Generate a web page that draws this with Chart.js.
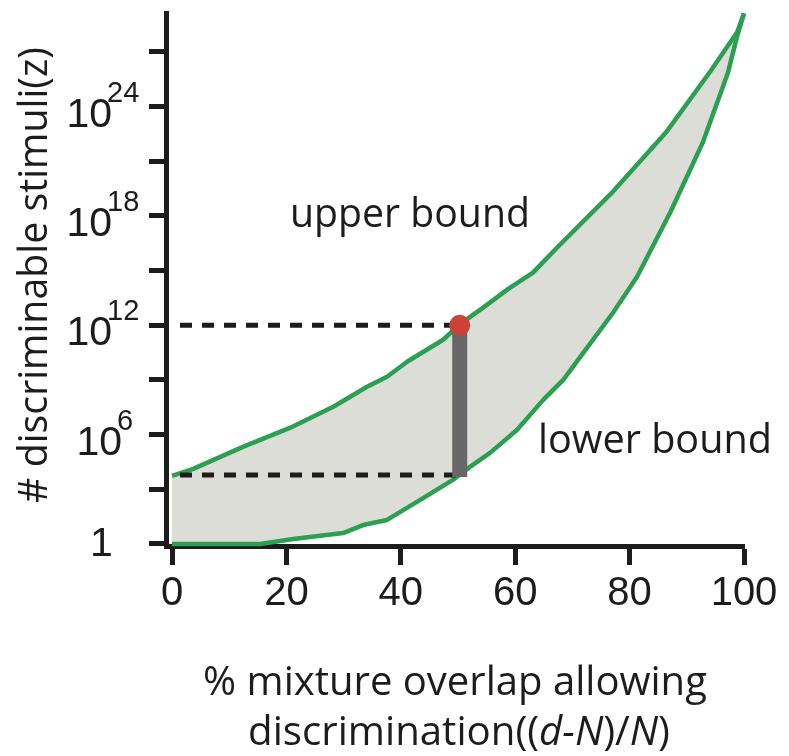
<!DOCTYPE html>
<html>
<head>
<meta charset="utf-8">
<script src="https://cdn.jsdelivr.net/npm/chart.js@4.4.1/dist/chart.umd.min.js"></script>
<style>
html,body{margin:0;padding:0;background:#ffffff;}
#wrap{width:789px;height:756px;position:relative;}
canvas{display:block;}
</style>
</head>
<body>
<div id="wrap"><canvas id="c" width="789" height="756"></canvas></div>
<script>
// ---- data (x in %, y as log10 exponent) ----
const upperX   = [0, 3.7, 12.4, 20.6, 28.2, 34.1, 37.6, 41.1, 47.4, 50.3, 54.4, 58.6, 63.1, 67.3, 77.1, 86.5, 94.1, 98.8, 100];
const upperExp = [3.74, 4.12, 5.33, 6.37, 7.53, 8.63, 9.18, 10.0, 11.21, 12.05, 12.97, 13.96, 14.89, 16.26, 19.34, 22.64, 25.93, 28.08, 29.12];
const lowerX   = [0, 15.4, 21.2, 29.9, 33.4, 37.6, 43.4, 49.1, 52.1, 55.6, 60.3, 64.9, 68.4, 71.9, 77.1, 81.3, 87.1, 92.8, 97.2, 98.8, 100];
const lowerExp = [0, 0, 0.27, 0.6, 1.04, 1.32, 2.42, 3.52, 4.23, 5.0, 6.26, 7.91, 9.01, 10.49, 12.69, 14.67, 18.19, 22.03, 25.88, 27.86, 29.12];
const markX = 50.3;          // highlighted overlap
const markUpperExp = 12;     // 10^12 upper bound at the mark
const markLowerExp = 3.79;   // lower bound level at the mark
const barBottomExp = 3.68;
const dashStartX = 1.4;
const xTicks = [0, 20, 40, 60, 80, 100];
const yTickExp = [0, 3, 6, 9, 12, 15, 18, 21, 24, 27];
const yLabelExp = [0, 6, 12, 18, 24];
const yTitle = '# discriminable stimuli(z)';
const xTitle1 = '% mixture overlap allowing';
const xTitle2 = [['discrimination((', false], ['d-N', true], [')/', false], ['N', true], [')', false]];
const annUpper = 'upper bound';
const annLower = 'lower bound';

// ---- styles ----
const GREEN = '#2ba052';
const FILL = '#dcddd7';
const INK = '#1c1c1c';
const SANS = "'Open Sans', 'Noto Sans', sans-serif";
const NUM = "'Liberation Sans', Arial, sans-serif";

const pts = (xs, es) => xs.map((x, i) => ({x: x, y: Math.pow(10, es[i])}));

function fitSize(ctx, segs, targetW) {
  let w = 0;
  segs.forEach(([t, it]) => { ctx.font = (it ? 'italic ' : '') + '100px ' + SANS; w += ctx.measureText(t).width; });
  return 100 * targetW / w;
}

const textPlugin = {
  id: 'texts',
  afterDraw(chart) {
    const ctx = chart.ctx;
    const ys = chart.scales.y;
    ctx.save();
    ctx.fillStyle = INK;
    ctx.textBaseline = 'alphabetic';
    // y tick labels with superscripts
    yLabelExp.forEach(e => {
      const py = ys.getPixelForValue(Math.pow(10, e));
      if (e === 0) {
        ctx.font = '41px ' + NUM;
        ctx.textAlign = 'left';
        ctx.fillText('1', 90, py + 12);
        return;
      }
      const sup = String(e);
      const right = sup.length === 1 ? 122 : 112;
      ctx.font = '41px ' + NUM;
      ctx.textAlign = 'right';
      ctx.fillText('10', right, py + 20);
      ctx.font = '29px ' + NUM;
      ctx.textAlign = 'left';
      ctx.fillText(sup, right - 5, py - 5);
    });
    // y title
    let s = fitSize(ctx, [[yTitle, false]], 456);
    ctx.save();
    ctx.translate(47, 275);
    ctx.rotate(-Math.PI / 2);
    ctx.font = s + 'px ' + SANS;
    ctx.textAlign = 'center';
    ctx.fillText(yTitle, 0, 0);
    ctx.restore();
    // x title line 1
    s = fitSize(ctx, [[xTitle1, false]], 504);
    ctx.font = s + 'px ' + SANS;
    ctx.textAlign = 'center';
    ctx.fillText(xTitle1, 455, 695);
    // x title line 2 (mixed italic)
    s = fitSize(ctx, xTitle2, 422);
    let total = 0;
    xTitle2.forEach(([t, it]) => { ctx.font = (it ? 'italic ' : '') + s + 'px ' + SANS; total += ctx.measureText(t).width; });
    let x = 459 - total / 2;
    ctx.textAlign = 'left';
    xTitle2.forEach(([t, it]) => {
      ctx.font = (it ? 'italic ' : '') + s + 'px ' + SANS;
      ctx.fillText(t, x, 745);
      x += ctx.measureText(t).width;
    });
    // annotations
    s = fitSize(ctx, [[annUpper, false]], 240);
    ctx.font = s + 'px ' + SANS;
    ctx.fillText(annUpper, 290, 227);
    s = fitSize(ctx, [[annLower, false]], 234);
    ctx.font = s + 'px ' + SANS;
    ctx.fillText(annLower, 538, 453);
    ctx.restore();
  }
};

new Chart(document.getElementById('c'), {
  type: 'line',
  data: {
    datasets: [
      { label: 'mark', type: 'scatter', data: [{x: markX, y: Math.pow(10, markUpperExp)}],
        pointRadius: 10.5, pointBackgroundColor: '#cc4236', pointBorderWidth: 0, showLine: false, order: 0, clip: false },
      { label: 'range', data: [{x: markX, y: Math.pow(10, barBottomExp)}, {x: markX, y: Math.pow(10, markUpperExp)}],
        borderColor: '#676767', borderWidth: 15, borderCapStyle: 'butt', pointRadius: 0, fill: false, order: 1, clip: false },
      { label: 'dash upper', data: [{x: dashStartX, y: Math.pow(10, markUpperExp)}, {x: markX, y: Math.pow(10, markUpperExp)}],
        borderColor: INK, borderWidth: 5, borderDash: [12, 10], borderCapStyle: 'butt', pointRadius: 0, fill: false, order: 2, clip: false },
      { label: 'dash lower', data: [{x: dashStartX, y: Math.pow(10, markLowerExp)}, {x: markX, y: Math.pow(10, markLowerExp)}],
        borderColor: INK, borderWidth: 5, borderDash: [12, 10], borderCapStyle: 'butt', pointRadius: 0, fill: false, order: 2, clip: false },
      { label: 'upper bound', data: pts(upperX, upperExp), borderColor: GREEN, borderWidth: 4.5,
        backgroundColor: FILL, fill: 5, pointRadius: 0, tension: 0, order: 3, clip: false, borderJoinStyle: 'round' },
      { label: 'lower bound', data: pts(lowerX, lowerExp), borderColor: GREEN, borderWidth: 4.5,
        fill: false, pointRadius: 0, tension: 0, order: 3, clip: false, borderJoinStyle: 'round' }
    ]
  },
  options: {
    responsive: false,
    animation: false,
    devicePixelRatio: 1,
    layout: { padding: { left: 0, right: 45, top: 13, bottom: 0 } },
    plugins: {
      legend: { display: false },
      tooltip: { enabled: false },
      filler: { drawTime: 'beforeDatasetsDraw' }
    },
    scales: {
      x: {
        type: 'linear',
        min: -1.05,
        max: 100,
        afterBuildTicks: s => { s.ticks = xTicks.map(v => ({value: v})); },
        afterFit: s => { s.height = 210; },
        border: { display: true, color: INK, width: 5 },
        grid: { display: true, drawOnChartArea: false, drawTicks: true, tickLength: 19, tickWidth: 5, tickColor: INK },
        ticks: { color: INK, font: { family: NUM, size: 40 }, padding: 5, maxRotation: 0, autoSkip: false }
      },
      y: {
        type: 'logarithmic',
        min: Math.pow(10, -0.11),
        max: Math.pow(10, 29.14),
        afterBuildTicks: s => { s.ticks = yTickExp.map(e => ({value: Math.pow(10, e)})); },
        afterFit: s => { s.width = 166; },
        border: { display: true, color: INK, width: 5 },
        grid: { display: true, drawOnChartArea: false, drawTicks: true, tickLength: 17, tickWidth: 5, tickColor: INK },
        ticks: { display: false }
      }
    }
  },
  plugins: [textPlugin]
});
</script>
</body>
</html>
